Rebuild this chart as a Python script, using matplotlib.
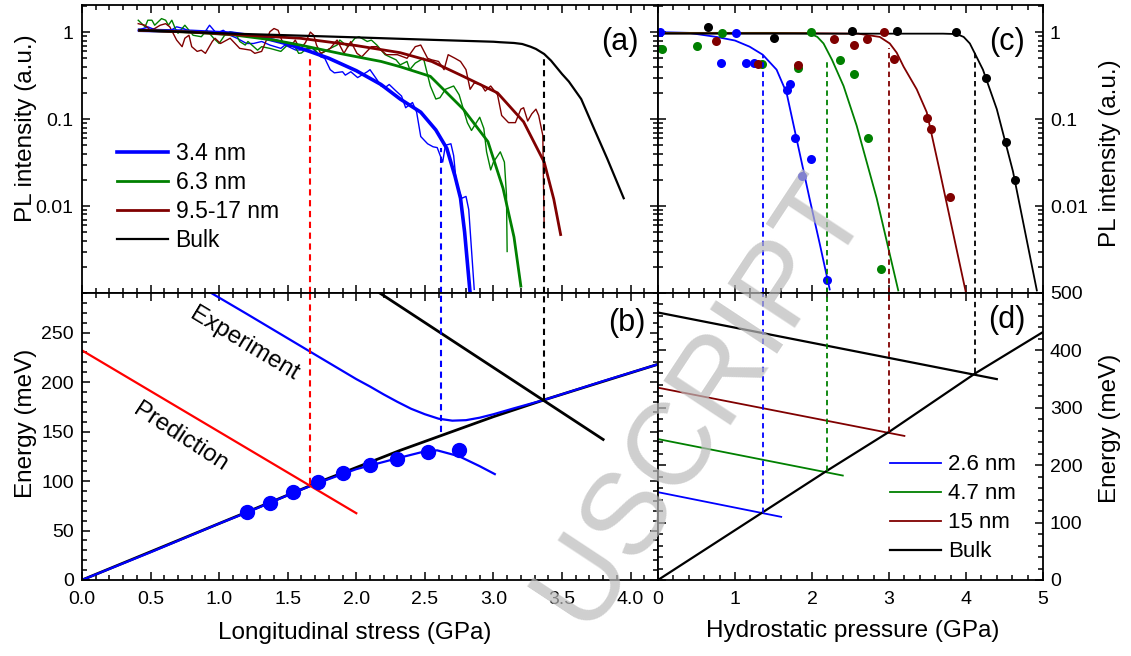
import numpy as np
import matplotlib
matplotlib.use("Agg")
import matplotlib.pyplot as plt
from matplotlib.ticker import MultipleLocator, FixedLocator, LogLocator, NullFormatter, FormatStrFormatter

plt.rcParams['font.family'] = ['Liberation Sans', 'DejaVu Sans']

# ---------------- Panel (a): PL intensity vs longitudinal stress ----------------
a_blue_x = [0.41,0.48,0.51,0.56,0.63,0.69,0.74,0.79,0.89,0.93,0.98,1.03,1.08,1.13,1.20,1.25,1.31,1.37,1.45,1.48,
            1.56,1.63,1.68,1.74,1.77,1.81,1.84,1.90,1.92,1.96,2.01,2.08,2.10,2.15,2.18,2.21,2.24,2.29,2.33,2.36,
            2.41,2.44,2.47,2.52,2.56,2.59,2.63,2.65,2.69,2.71,2.73,2.77,2.80,2.82,2.86]
a_blue_y = [1.05,1.15,1.10,1.05,1.01,1.15,1.10,1.01,0.97,1.20,0.97,1.05,0.92,0.85,0.74,0.74,0.78,0.71,0.65,0.71,
            0.62,0.63,0.65,0.52,0.50,0.37,0.34,0.35,0.32,0.35,0.30,0.35,0.37,0.285,0.24,0.23,0.25,0.21,0.184,0.135,
            0.155,0.12,0.063,0.052,0.048,0.047,0.032,0.050,0.052,0.038,0.018,0.0123,0.0129,0.0091,0.0011]
a_green_x = [0.41,0.46,0.48,0.51,0.53,0.58,0.61,0.63,0.655,0.68,0.70,0.73,0.75,0.81,0.87,0.91,0.96,1.00,1.04,1.08,
             1.12,1.15,1.19,1.21,1.28,1.31,1.37,1.45,1.51,1.54,1.58,1.60,1.64,1.69,1.73,1.81,1.86,1.88,1.91,1.94,
             1.99,2.02,2.08,2.11,2.15,2.21,2.29,2.32,2.37,2.39,2.43,2.49,2.54,2.58,2.61,2.65,2.71,2.75,2.81,2.84,
             2.90,2.93,2.95,2.98,3.00,3.05,3.08,3.095,3.10]
a_green_y = [1.37,1.15,1.37,1.37,1.20,1.43,1.37,1.20,1.37,1.10,0.97,1.10,1.20,0.92,0.885,1.05,0.85,0.74,0.92,1.01,
             0.97,0.78,0.71,0.78,0.62,0.68,0.65,0.60,0.74,0.74,0.57,0.575,0.65,0.65,0.55,0.65,0.71,0.81,0.74,0.68,
             0.85,0.885,0.78,0.81,0.71,0.55,0.48,0.42,0.46,0.37,0.44,0.50,0.24,0.17,0.176,0.22,0.24,0.19,0.091,0.074,
             0.105,0.078,0.042,0.026,0.032,0.042,0.032,0.0135,0.003]
a_red_x = [0.41,0.46,0.50,0.53,0.57,0.61,0.64,0.69,0.73,0.75,0.78,0.80,0.84,0.87,0.90,0.95,0.97,1.01,1.08,1.15,
           1.23,1.26,1.31,1.37,1.40,1.43,1.46,1.52,1.555,1.59,1.63,1.665,1.69,1.71,1.74,1.77,1.81,1.86,1.91,1.96,
           2.005,2.04,2.11,2.15,2.22,2.30,2.37,2.43,2.47,2.52,2.55,2.60,2.64,2.67,2.72,2.76,2.80,2.83,2.86,2.91,
           2.94,2.98,3.03,3.06,3.11,3.16,3.20,3.22,3.25,3.28,3.31,3.33,3.36,3.37]
a_red_y = [1.25,1.20,1.05,1.10,1.20,1.25,1.15,0.81,0.68,0.85,0.92,0.68,0.60,0.62,0.57,0.78,0.85,0.74,0.85,0.65,
           0.62,0.57,0.60,1.01,1.10,1.05,0.78,0.68,0.81,0.63,0.76,1.00,0.92,0.71,0.57,0.60,0.65,0.81,0.57,0.78,
           0.57,0.52,0.68,0.68,0.55,0.55,0.50,0.68,0.71,0.50,0.48,0.46,0.37,0.55,0.50,0.46,0.37,0.22,0.26,0.25,
           0.21,0.24,0.19,0.11,0.091,0.091,0.13,0.135,0.095,0.115,0.13,0.11,0.065,0.0056]

fit_a_blue_x = [0.42,0.8,1.1,1.3,1.5,1.66,1.8,2.0,2.18,2.32,2.47,2.58,2.66,2.72,2.76,2.79,2.83]
fit_a_blue_y = [1.05,1.02,0.97,0.88,0.73,0.60,0.50,0.36,0.25,0.17,0.12,0.075,0.046,0.022,0.0123,0.005,0.001]
fit_a_green_x = [0.42,0.8,1.1,1.4,1.59,1.9,2.18,2.32,2.54,2.78,2.96,3.07,3.15,3.20]
fit_a_green_y = [1.05,1.0,0.93,0.81,0.71,0.56,0.46,0.40,0.31,0.13,0.055,0.016,0.0044,0.0012]
fit_a_red_x = [0.42,0.8,1.2,1.59,2.0,2.32,2.55,2.78,3.03,3.22,3.37,3.44,3.49]
fit_a_red_y = [1.05,1.0,0.92,0.85,0.70,0.58,0.46,0.31,0.20,0.093,0.032,0.012,0.0047]
fit_a_bulk_x = [0.42,1.0,1.5,2.0,2.5,3.0,3.05,3.15,3.21,3.27,3.31,3.37,3.42,3.5,3.55,3.64,3.73,3.83,3.95]
fit_a_bulk_y = [1.05,0.97,0.92,0.87,0.82,0.775,0.765,0.75,0.73,0.68,0.64,0.56,0.47,0.33,0.27,0.17,0.08,0.035,0.0123]
a_labels = ['3.4 nm', '6.3 nm', '9.5-17 nm', 'Bulk']

# ---------------- Panel (b): energy vs longitudinal stress ----------------
b_bulk_x = [0, 1.2, 1.72, 2.32, 3.0, 3.37, 4.2]
b_bulk_y = [0, 68.5, 98.5, 131, 165, 182, 218]
b_exp_x = [0.93, 1.2, 1.66, 2.0, 2.10, 2.20, 2.30, 2.40, 2.50, 2.60, 2.70, 2.80, 2.90, 3.00, 3.15, 3.37, 3.8, 4.2]
b_exp_y = [291, 269, 231, 203, 195.5, 187.5, 180, 173, 167.5, 163, 161, 161.5, 164, 167.5, 173.5, 182, 201, 218]
b_bulkdown_x = [2.16, 3.8]
b_bulkdown_y = [291, 142]
b_pred_x = [0, 2.0]
b_pred_y = [232, 67.5]
b_pts_x = [1.20, 1.37, 1.54, 1.72, 1.90, 2.10, 2.30, 2.52, 2.75]
b_pts_y = [68.5, 78, 89, 99, 108, 116.5, 122.5, 129, 131.5]
b_fit_x = [0, 0.5, 1.0, 1.2, 1.54, 1.72, 2.0, 2.3, 2.5, 2.59, 2.75, 2.9, 3.01]
b_fit_y = [0, 28, 57, 68, 88, 98, 112, 123, 130, 131, 125, 115, 107]

# ---------------- Panel (c): PL intensity vs hydrostatic pressure ----------------
c_blue_px = [0.03, 1.01, 0.82, 1.14, 1.25, 1.67, 1.72, 1.78, 1.87, 1.99, 2.19]
c_blue_py = [1.0, 0.97, 0.44, 0.44, 0.44, 0.215, 0.25, 0.06, 0.022, 0.035, 0.0014]
c_green_px = [0.05, 0.50, 0.83, 1.35, 1.82, 1.99, 2.36, 2.55, 2.73, 2.90]
c_green_py = [0.64, 0.69, 0.98, 0.43, 0.39, 1.0, 0.48, 0.33, 0.06, 0.0019]
c_red_px = [0.75, 1.30, 1.82, 2.28, 2.55, 2.71, 2.93, 3.07, 3.49, 3.55, 3.79]
c_red_py = [0.79, 0.43, 0.42, 0.83, 0.71, 0.83, 1.0, 0.49, 0.104, 0.077, 0.0126]
c_bulk_px = [0.65, 1.51, 2.52, 3.10, 3.87, 4.26, 4.52, 4.64]
c_bulk_py = [1.15, 0.85, 1.03, 1.03, 1.0, 0.30, 0.055, 0.02]

fit_c_blue_x = [0, 0.4, 0.76, 1.0, 1.19, 1.36, 1.54, 1.67, 1.80, 1.97, 2.10, 2.23]
fit_c_blue_y = [1.0, 0.98, 0.88, 0.80, 0.68, 0.55, 0.37, 0.20, 0.059, 0.012, 0.0037, 0.0011]
fit_c_green_x = [0, 0.5, 1.0, 1.5, 1.97, 2.07, 2.15, 2.26, 2.41, 2.58, 2.84, 3.12]
fit_c_green_y = [0.98, 0.98, 0.98, 0.98, 0.97, 0.88, 0.74, 0.48, 0.24, 0.084, 0.0123, 0.00107]
fit_c_red_x = [0, 1.0, 2.0, 2.6, 2.88, 3.01, 3.10, 3.19, 3.36, 3.49, 3.66, 3.83, 4.0]
fit_c_red_y = [0.97, 0.97, 0.97, 0.96, 0.88, 0.74, 0.58, 0.40, 0.22, 0.12, 0.025, 0.005, 0.0010]
fit_c_bulk_x = [0, 1, 2, 3, 3.7, 3.88, 3.97, 4.05, 4.22, 4.40, 4.61, 4.92]
fit_c_bulk_y = [0.96, 0.96, 0.96, 0.96, 0.96, 0.95, 0.88, 0.74, 0.37, 0.13, 0.025, 0.00107]

# ---------------- Panel (d): energy vs hydrostatic pressure ----------------
d_bulk_x = [0, 2.19, 3.0, 4.12, 5.0]
d_bulk_y = [0, 190, 258, 360, 432]
d_bulkdown_x = [0, 4.4]
d_bulkdown_y = [466, 350]
d_15_x = [0, 3.2]
d_15_y = [335, 251]
d_47_x = [0, 2.4]
d_47_y = [245.5, 182]
d_26_x = [0, 1.6]
d_26_y = [153, 110]
d_labels = ['2.6 nm', '4.7 nm', '15 nm', 'Bulk']

# crossing markers (dashed verticals): x, top in upper panel, bottom in lower panel
ab_dash_x = [1.66, 2.62, 3.37]
ab_dash_top = [0.50, 0.046, 0.55]
ab_dash_bot = [97, 150, 182]
cd_dash_x = [1.37, 2.19, 3.0, 4.12]
cd_dash_top = [0.55, 0.48, 0.65, 0.62]
cd_dash_bot = [117, 190, 258, 360]

BLUE = '#0000ff'
GREEN = '#008000'
DRED = '#800000'
RED = '#ff0000'
BLACK = '#000000'

W, H = 1131, 656
fig = plt.figure(figsize=(W/100, H/100), dpi=100)
L1, R1, R2 = 82/W, 658/W, 1043/W
TOP, MID, BOT = 1-5/H, 1-293/H, 1-580/H
axA = fig.add_axes([L1, MID, R1-L1, TOP-MID])
axB = fig.add_axes([L1, BOT, R1-L1, MID-BOT])
axC = fig.add_axes([R1, MID, R2-R1, TOP-MID])
axD = fig.add_axes([R1, BOT, R2-R1, MID-BOT])

TICKFS = 14
for ax in (axA, axB, axC, axD):
    for s in ax.spines.values():
        s.set_linewidth(1.3)
    ax.tick_params(which='both', direction='in', top=True, right=True, bottom=True, left=True,
                   labelsize=TICKFS, width=1.1)
    ax.tick_params(which='major', length=6)
    ax.tick_params(which='minor', length=3.5)

# ---- (a)
axA.set_yscale('log')
axA.plot(a_blue_x, a_blue_y, color=BLUE, lw=1.0)
axA.plot(a_green_x, a_green_y, color=GREEN, lw=1.0)
axA.plot(a_red_x, a_red_y, color=DRED, lw=1.0)
axA.plot(fit_a_blue_x, fit_a_blue_y, color=BLUE, lw=2.6, label=a_labels[0])
axA.plot(fit_a_green_x, fit_a_green_y, color=GREEN, lw=2.0, label=a_labels[1])
axA.plot(fit_a_red_x, fit_a_red_y, color=DRED, lw=2.0, label=a_labels[2])
axA.plot(fit_a_bulk_x, fit_a_bulk_y, color=BLACK, lw=1.6, label=a_labels[3])
for xv, tv, c in zip(ab_dash_x, ab_dash_top, [RED, BLUE, BLACK]):
    axA.plot([xv, xv], [1e-3, tv], color=c, lw=1.5, ls=(0, (3, 2.2)))
axA.set_xlim(0, 4.2)
axA.set_ylim(1e-3, 2.05)
axA.yaxis.set_major_locator(FixedLocator([1e-3, 1e-2, 1e-1, 1]))
axA.set_yticklabels(['', '0.01', '0.1', '1'])
axA.yaxis.set_minor_locator(LogLocator(base=10, subs=np.arange(2, 10)))
axA.yaxis.set_minor_formatter(NullFormatter())
axA.xaxis.set_major_locator(MultipleLocator(0.5))
axA.xaxis.set_minor_locator(MultipleLocator(0.1))
axA.tick_params(labelbottom=False, pad=6)
axA.legend(loc='upper left', bbox_to_anchor=(0.061, 0.523), frameon=False, fontsize=16.5,
           handlelength=2.2, handletextpad=0.35, labelspacing=0.25, borderpad=0, borderaxespad=0)
axA.text(0.934, 0.872, '(a)', transform=axA.transAxes, fontsize=22, ha='center', va='center')

# ---- (b)
axB.plot(b_bulk_x, b_bulk_y, color=BLACK, lw=2.0)
axB.plot(b_fit_x, b_fit_y, color=BLUE, lw=1.6)
axB.plot(b_exp_x, b_exp_y, color=BLUE, lw=1.6)
axB.plot(b_bulkdown_x, b_bulkdown_y, color=BLACK, lw=2.0)
axB.plot(b_pred_x, b_pred_y, color=RED, lw=1.6)
axB.plot(b_pts_x, b_pts_y, 'o', color=BLUE, ms=10)
for xv, bv, c in zip(ab_dash_x, ab_dash_bot, [RED, BLUE, BLACK]):
    axB.plot([xv, xv], [bv, 290], color=c, lw=1.5, ls=(0, (3, 2.2)))
axB.set_xlim(0, 4.2)
axB.set_ylim(0, 290)
axB.xaxis.set_major_locator(MultipleLocator(0.5))
axB.xaxis.set_minor_locator(MultipleLocator(0.1))
axB.xaxis.set_major_formatter(FormatStrFormatter('%.1f'))
axB.yaxis.set_major_locator(MultipleLocator(50))
axB.yaxis.set_minor_locator(MultipleLocator(10))
axB.tick_params(axis='x', pad=8)
axB.tick_params(axis='y', pad=6)
axB.text(1.18, 238, 'Experiment', rotation=-31, fontsize=17.5, ha='center', va='center', rotation_mode='anchor')
axB.text(0.72, 144, 'Prediction', rotation=-33, fontsize=17.5, ha='center', va='center', rotation_mode='anchor')
axB.text(0.946, 0.895, '(b)', transform=axB.transAxes, fontsize=22, ha='center', va='center')

# ---- (c)
axC.set_yscale('log')
axC.plot(fit_c_blue_x, fit_c_blue_y, color=BLUE, lw=1.3)
axC.plot(fit_c_green_x, fit_c_green_y, color=GREEN, lw=1.3)
axC.plot(fit_c_red_x, fit_c_red_y, color=DRED, lw=1.3)
axC.plot(fit_c_bulk_x, fit_c_bulk_y, color=BLACK, lw=1.3)
axC.plot(c_blue_px, c_blue_py, 'o', color=BLUE, ms=6.5, mec='none')
axC.plot(c_green_px, c_green_py, 'o', color=GREEN, ms=6.5, mec='none')
axC.plot(c_red_px, c_red_py, 'o', color=DRED, ms=6.5, mec='none')
axC.plot(c_bulk_px, c_bulk_py, 'o', color=BLACK, ms=6.5, mec='none')
for xv, tv, c in zip(cd_dash_x, cd_dash_top, [BLUE, GREEN, DRED, BLACK]):
    axC.plot([xv, xv], [1e-3, tv], color=c, lw=1.3, ls=(0, (3, 2.2)))
axC.set_xlim(0, 5)
axC.set_ylim(1e-3, 2.05)
axC.yaxis.set_major_locator(FixedLocator([1e-3, 1e-2, 1e-1, 1]))
axC.set_yticklabels(['', '0.01', '0.1', '1'])
axC.yaxis.set_minor_locator(LogLocator(base=10, subs=np.arange(2, 10)))
axC.yaxis.set_minor_formatter(NullFormatter())
axC.xaxis.set_major_locator(MultipleLocator(1))
axC.xaxis.set_minor_locator(MultipleLocator(0.2))
axC.tick_params(labelbottom=False, labelleft=False, labelright=True, pad=5)
axC.text(0.906, 0.872, '(c)', transform=axC.transAxes, fontsize=22, ha='center', va='center')

# ---- (d)
axD.plot(d_26_x, d_26_y, color=BLUE, lw=1.3, label=d_labels[0])
axD.plot(d_47_x, d_47_y, color=GREEN, lw=1.3, label=d_labels[1])
axD.plot(d_15_x, d_15_y, color=DRED, lw=1.3, label=d_labels[2])
axD.plot(d_bulk_x, d_bulk_y, color=BLACK, lw=1.6, label=d_labels[3])
axD.plot(d_bulkdown_x, d_bulkdown_y, color=BLACK, lw=1.6)
for xv, bv, c in zip(cd_dash_x, cd_dash_bot, [BLUE, GREEN, DRED, BLACK]):
    axD.plot([xv, xv], [bv, 500], color=c, lw=1.3, ls=(0, (3, 2.2)))
axD.set_xlim(0, 5)
axD.set_ylim(0, 500)
axD.xaxis.set_major_locator(MultipleLocator(1))
axD.xaxis.set_minor_locator(MultipleLocator(0.2))
axD.yaxis.set_major_locator(MultipleLocator(100))
axD.yaxis.set_minor_locator(MultipleLocator(20))
axD.tick_params(labelleft=False, labelright=True)
axD.tick_params(axis='x', pad=8)
axD.tick_params(axis='y', pad=5)
axD.legend(loc='upper left', bbox_to_anchor=(0.603, 0.438), frameon=False, fontsize=16,
           handlelength=2.3, handletextpad=0.3, labelspacing=0.36, borderpad=0, borderaxespad=0)
axD.text(0.906, 0.906, '(d)', transform=axD.transAxes, fontsize=22, ha='center', va='center')

# ---- axis labels
LABFS = 17.5
fig.text(26/W, 1-128/H, 'PL intensity (a.u.)', rotation=90, fontsize=LABFS, ha='center', va='center')
fig.text(26/W, 1-423/H, 'Energy (meV)', rotation=90, fontsize=LABFS, ha='center', va='center')
fig.text(1110/W, 1-153/H, 'PL intensity (a.u.)', rotation=90, fontsize=LABFS, ha='center', va='center')
fig.text(1110/W, 1-428/H, 'Energy (meV)', rotation=90, fontsize=LABFS, ha='center', va='center')
fig.text(355/W, 1-633/H, 'Longitudinal stress (GPa)', fontsize=LABFS, ha='center', va='center')
fig.text(853/W, 1-631/H, 'Hydrostatic pressure (GPa)', fontsize=LABFS, ha='center', va='center')

# watermark
fig.text(702/W, 1-400/H, 'USCRIPT', rotation=56.6, fontsize=84, color='#bbbbbb', alpha=0.7,
         ha='center', va='center', zorder=20)

fig.savefig('out.png', dpi=100)
